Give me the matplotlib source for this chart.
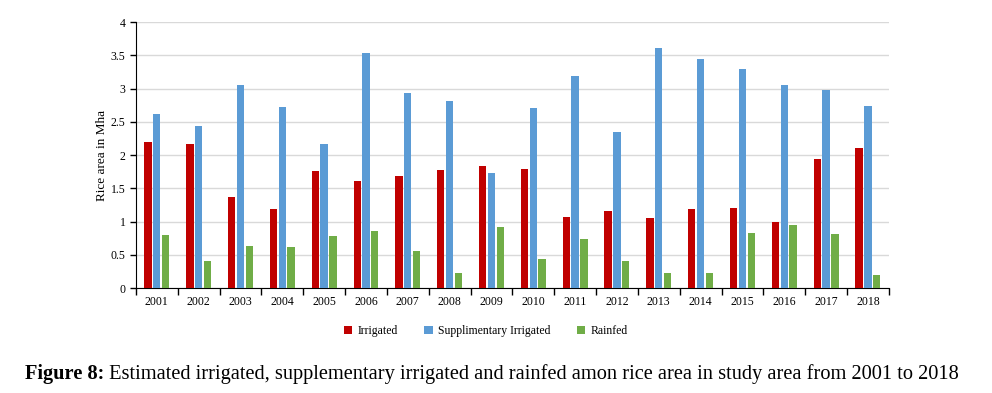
import numpy as np
import matplotlib.pyplot as plt

# --- dados ---
anos = [str(a) for a in range(2001, 2019)]
irrigated = [2.20, 2.17, 1.37, 1.19, 1.76, 1.61, 1.69, 1.77, 1.84, 1.79,
             1.07, 1.16, 1.06, 1.19, 1.20, 1.00, 1.94, 2.11]
supplementary = [2.62, 2.43, 3.06, 2.72, 2.17, 3.54, 2.94, 2.81, 1.73, 2.71,
                 3.19, 2.34, 3.61, 3.45, 3.30, 3.06, 2.98, 2.73]
rainfed = [0.80, 0.40, 0.63, 0.62, 0.79, 0.86, 0.56, 0.22, 0.92, 0.43,
           0.74, 0.40, 0.22, 0.22, 0.83, 0.95, 0.82, 0.20]

serif = 'Liberation Serif'

fig = plt.figure(figsize=(9.92, 3.93), dpi=100)
ax = fig.add_axes([0.137, 0.267, 0.759, 0.677])

x = np.arange(len(anos))
w = 0.175
ax.bar(x - 0.21, irrigated, w, color='#C00000', label='Irrigated', zorder=3)
ax.bar(x, supplementary, w, color='#5B9BD5', label='Supplimentary Irrigated', zorder=3)
ax.bar(x + 0.21, rainfed, w, color='#70AD47', label='Rainfed', zorder=3)

ax.set_xlim(-0.5, len(anos) - 0.5)
ax.set_ylim(0, 4)
ax.set_yticks(np.arange(0, 4.01, 0.5))
ax.set_yticklabels(['0', '0.5', '1', '1.5', '2', '2.5', '3', '3.5', '4'])
ax.set_xticks(x)
ax.set_xticklabels(anos)
ax.set_xticks(np.arange(-0.5, len(anos), 1), minor=True)
ax.tick_params(axis='x', which='major', length=0, pad=6, labelsize=8.5)
ax.tick_params(axis='x', which='minor', length=5, width=1, direction='out')
ax.tick_params(axis='y', length=4, width=1, labelsize=8.5)
for lab in ax.get_xticklabels() + ax.get_yticklabels():
    lab.set_family(serif)

ax.grid(axis='y', color='#d9d9d9', linewidth=1, zorder=0)
for s in ['top', 'right']:
    ax.spines[s].set_visible(False)

ax.set_ylabel('Rice area in Mha', family=serif, fontsize=9.5, labelpad=2)

ax.legend(loc='upper center', bbox_to_anchor=(0.465, -0.1), ncol=3, frameon=False,
          prop={'family': serif, 'size': 8.5}, handlelength=0.7, handleheight=0.7,
          columnspacing=2.2, handletextpad=0.5)

# legenda da figura
t1 = fig.text(25 / 992, 1 - 379 / 393, 'Figure 8:', family=serif, fontsize=14.7,
              weight='bold')
ax.annotate(' Estimated irrigated, supplementary irrigated and rainfed amon rice area in study area from 2001 to 2018',
            xy=(1, 0), xycoords=t1, va='bottom', ha='left', family=serif, fontsize=14.7,
            annotation_clip=False)

fig.savefig('out.png', dpi=100)
